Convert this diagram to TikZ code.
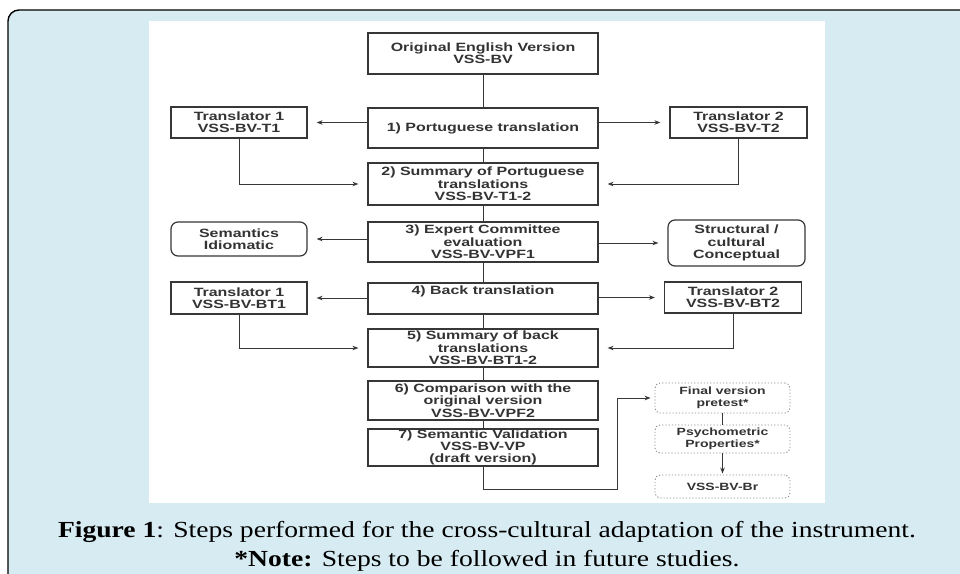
\documentclass[tikz,border=0pt]{standalone}
\usepackage{fontspec}
\usepackage{tikz}
\usetikzlibrary{arrows.meta}
\usetikzlibrary{calc}
\newfontfamily\boxfont[FakeStretch=1.33]{Liberation Sans}
\newfontfamily\capfont[FakeStretch=1.2]{Liberation Serif}
\definecolor{framebg}{RGB}{215,236,242}
\definecolor{linegray}{RGB}{55,55,55}
\definecolor{dotgray}{RGB}{140,140,140}

\begin{document}
\begin{tikzpicture}[x=1pt,y=-1pt,
    box/.style={draw=linegray,line width=1.2pt,fill=white,inner sep=0pt,align=center,text=black!80,font=\boxfont\bfseries\fontsize{12}{12.3}\selectfont},
    rbox/.style={box,rounded corners=7pt},
    dbox/.style={box,draw=dotgray,dotted,line width=0.9pt,rounded corners=5pt,font=\boxfont\bfseries\fontsize{10.5}{11.5}\selectfont},
    link/.style={draw=linegray,line width=0.9pt},
    arr/.style={link,-{Stealth[length=6pt,width=4.5pt]},shorten >=9pt}]
            \useasboundingbox (0,0) rectangle (960,573);
            \clip (0,0) rectangle (960,573);
            \draw[fill=framebg,line width=1.4pt,rounded corners=11pt](8,10) rectangle (990,600);
            \fill[white](149,21) rectangle (825,503);

            \node[box,minimum width=230pt,minimum height=41pt] (orig_v) at (483,53.5) {Original English Version\\VSS-BV};
            \node[box,minimum width=230pt,minimum height=40pt] (pt_tr) at (483,128) {1) Portuguese translation};
            \node[box,minimum width=136pt,minimum height=31pt] (tr1_pt) at (239,122.5) {Translator 1\\VSS-BV-T1};
            \node[box,minimum width=137pt,minimum height=31pt] (tr2_pt) at (738.5,122.5) {Translator 2\\VSS-BV-T2};
            \node[box,minimum width=230pt,minimum height=42pt] (sum_pt) at (483,184) {2) Summary of Portuguese\\translations\\VSS-BV-T1-2};
            \node[box,minimum width=230pt,minimum height=40pt] (exp_ev) at (483,242) {3) Expert Committee\\evaluation\\VSS-BV-VPF1};
            \node[rbox,minimum width=136pt,minimum height=34pt] (sem_id) at (239,239) {Semantics\\Idiomatic};
            \node[rbox,minimum width=137pt,minimum height=46pt] (str_cu) at (736.5,243) {Structural /\\cultural\\Conceptual};
            \node[box,minimum width=230pt,minimum height=31pt] (back_tr) at (483,298.5) {4) Back translation\\\strut};
            \node[box,minimum width=136pt,minimum height=32pt] (tr1_bt) at (239,298) {Translator 1\\VSS-BV-BT1};
            \node[box,minimum width=137pt,minimum height=31pt] (tr2_bt) at (733,297.5) {Translator 2\\VSS-BV-BT2};
            \node[box,minimum width=230pt,minimum height=38pt] (sum_bt) at (483,348) {5) Summary of back\\translations\\VSS-BV-BT1-2};
            \node[box,minimum width=230pt,minimum height=39pt] (cmp_or) at (483,400.5) {6) Comparison with the\\original version\\VSS-BV-VPF2};
            \node[box,minimum width=230pt,minimum height=37pt] (sem_val) at (483,447.5) {7) Semantic Validation\\VSS-BV-VP\\(draft version)};
            \node[dbox,minimum width=135pt,minimum height=30pt] (fin_pre) at (722.5,398) {Final version\\pretest*};
            \node[dbox,minimum width=135pt,minimum height=28pt] (psy_pr) at (722.5,439) {Psychometric\\Properties*};
            \node[dbox,minimum width=135pt,minimum height=23pt] (vss_br) at (722.5,486.5) {VSS-BV-Br};
            \coordinate (turn) at (617,489);

            \draw[link](orig_v)--(pt_tr);
            \draw[link](pt_tr)--(sum_pt);
            \draw[link](sum_pt)--(exp_ev);
            \draw[link](exp_ev)--(back_tr);
            \draw[link](back_tr)--(sum_bt);
            \draw[link](sum_bt)--(cmp_or);
            \draw[link](cmp_or)--(sem_val);
            \draw[arr](pt_tr.west |- tr1_pt)--(tr1_pt);
            \draw[arr](pt_tr.east |- tr2_pt)--(tr2_pt);
            \draw[arr](tr1_pt)|-(sum_pt);
            \draw[arr](tr2_pt)|-(sum_pt);
            \draw[arr](exp_ev.west |- sem_id)--(sem_id);
            \draw[arr](exp_ev.east |- str_cu)--(str_cu);
            \draw[arr](back_tr.west |- tr1_bt)--(tr1_bt);
            \draw[arr](back_tr.east |- tr2_bt)--(tr2_bt);
            \draw[arr](tr1_bt)|-(sum_bt);
            \draw[arr](tr2_bt)|-(sum_bt);
            \draw[arr,shorten >=4pt](sem_val)|-(turn)|-(fin_pre);
            \draw[link](fin_pre)--(psy_pr);
            \draw[arr,shorten >=1pt](psy_pr)--(vss_br);

            \node (cap_a) at (487,532) {\capfont\fontsize{23}{26}\selectfont\textbf{Figure 1}: Steps performed for the cross-cultural adaptation of the instrument.};
            \node (cap_b) at (487,561) {\capfont\fontsize{23}{26}\selectfont\textbf{*Note:} Steps to be followed in future studies.};
        \end{tikzpicture}
\end{document}
